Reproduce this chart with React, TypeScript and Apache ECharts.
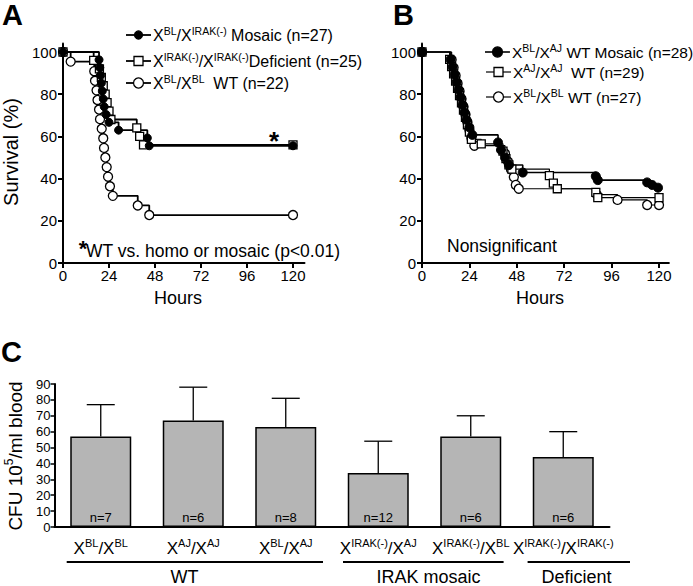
import React, { useEffect, useRef } from 'react';
import * as echarts from 'echarts';

const FONT = '"Liberation Sans", Arial, Helvetica, sans-serif';

// ---------- Panel A (survival, hours vs %) ----------
const hoursTicks = [0, 24, 48, 72, 96, 120];
const survivalTicks = [0, 20, 40, 60, 80, 100];

const aNames = ['X^{BL}/X^{IRAK(-)} Mosaic (n=27)', 'X^{IRAK(-)}/X^{IRAK(-)}Deficient (n=25)', 'X^{BL}/X^{BL}  WT (n=22)'];
const aMosaic: number[][] = [[0, 100], [18.8, 96.3], [19.2, 92.59], [19.6, 88.89], [20, 85.19], [20.5, 81.48], [21, 77.78], [21.5, 74.07], [22.5, 70.37], [24, 66.67], [29, 62.96], [44, 59.26], [45, 55.56], [120, 55.56]];
const aDeficient: number[][] = [[0, 100], [16, 96], [19, 92], [20, 88], [21, 84], [22, 80], [23, 76], [24, 72], [25, 68], [38.5, 64], [40, 60], [42, 56], [120, 56]];
const aWT: number[][] = [[0, 100], [4, 95.45], [16.3, 90.91], [16.7, 86.36], [17.5, 81.82], [18, 77.27], [18.8, 72.73], [19.3, 68.18], [20.2, 63.64], [21, 59.09], [21.4, 54.55], [22.1, 50], [22.8, 45.45], [23.5, 40.91], [24.5, 36.36], [26, 31.82], [39, 27.27], [45, 22.73], [120, 22.73]];

// ---------- Panel B ----------
const bNames = ['X^{BL}/X^{AJ} WT Mosaic (n=28)', 'X^{AJ}/X^{AJ}  WT (n=29)', 'X^{BL}/X^{BL} WT (n=27)'];
const bMosaic: number[][] = [[0, 100], [14.5, 96.43], [15.5, 92.86], [16.5, 89.29], [17.5, 85.71], [18.5, 82.14], [19.5, 78.57], [20.5, 75], [21.5, 71.43], [22.5, 67.86], [24, 64.29], [25.5, 60.71], [38.5, 57.14], [40, 53.57], [42, 50], [44, 46.43], [51, 42.86], [88, 41.1], [89, 39.29], [114, 38.2], [116.5, 37], [119.5, 35.7]];
const bAJ: number[][] = [[0, 100], [14, 96.55], [15, 93.1], [16, 89.66], [17, 86.21], [18, 82.76], [19, 79.31], [20, 75.86], [21, 72.41], [22, 68.97], [23, 65.52], [24, 62.07], [25, 58.62], [30, 56.5], [41, 53], [42.5, 49.5], [44, 46.5], [45.5, 44.5], [64.5, 41.4], [66.5, 37.9], [68.5, 35.2], [88, 33.5], [89, 31], [120, 31]];
const bBL: number[][] = [[0, 100], [15, 96.3], [16, 92.6], [17, 88.9], [18, 85.2], [19, 81.5], [20, 77.8], [21, 74.1], [22, 70.4], [23, 66.7], [24, 63], [25, 59.3], [26.5, 55.6], [42, 51.9], [43.5, 48.1], [45, 44.4], [46.5, 40.7], [47.5, 37], [49, 35.2], [88.5, 32.4], [99, 29.9], [114, 27.5], [120, 27.5]];

// ---------- Panel C (bars) ----------
const cfuCategories = ['X^{BL}/X^{BL}', 'X^{AJ}/X^{AJ}', 'X^{BL}/X^{AJ}', 'X^{IRAK(-)}/X^{AJ}', 'X^{IRAK(-)}/X^{BL}', 'X^{IRAK(-)}/X^{IRAK(-)}'];
const cfuMeans = [57, 67, 63, 34, 57, 44];
const cfuUpper = [77, 88, 81, 54, 70, 60];
const cfuN = ['n=7', 'n=6', 'n=8', 'n=12', 'n=6', 'n=6'];
const groupLabels = ['WT', 'IRAK mosaic', 'Deficient'];

function toRich(s: string, n = 'n', p = 's'): string {
  const out: string[] = [];
  const re = /\^\{([^}]*)\}/g;
  let last = 0;
  let m: RegExpExecArray | null;
  while ((m = re.exec(s))) {
    if (m.index > last) out.push(`{${n}|${s.slice(last, m.index)}}`);
    out.push(`{${p}|${m[1]}}`);
    last = re.lastIndex;
  }
  if (last < s.length) out.push(`{${n}|${s.slice(last)}}`);
  return out.join('');
}

const black = '#000';
function legendRich(size: number, sup: number) {
  return {
    n: { fontSize: size, lineHeight: 20, fill: black, fontFamily: FONT },
    s: { fontSize: sup, lineHeight: sup, verticalAlign: 'top', fill: black, fontFamily: FONT },
  };
}
const catRich = {
  n: { fontSize: 17, lineHeight: 22, color: black, fontFamily: FONT },
  s: { fontSize: 11, lineHeight: 11, verticalAlign: 'top', color: black, fontFamily: FONT },
};

const axisLineStyle = { show: true, onZero: false, lineStyle: { color: black, width: 2 } };

function kmX(gridIndex: number, max: number) {
  return {
    gridIndex, type: 'value', min: 0, max,
    axisLine: axisLineStyle,
    axisTick: { show: true, length: 5, lineStyle: { color: black, width: 2 }, customValues: hoursTicks },
    axisLabel: { customValues: hoursTicks, fontSize: 15, color: black, margin: 5 },
    splitLine: { show: false },
  };
}
function kmY(gridIndex: number) {
  return {
    gridIndex, type: 'value', min: 0, max: 104,
    axisLine: axisLineStyle,
    axisTick: { show: true, length: 5, lineStyle: { color: black, width: 2 }, customValues: survivalTicks },
    axisLabel: { customValues: survivalTicks, fontSize: 15, color: black, margin: 6 },
    splitLine: { show: false },
  };
}

function km(name: string, idx: number, data: number[][], symbol: string, filled: boolean, lineWidth: number, size: number) {
  return {
    name, type: 'line', xAxisIndex: idx, yAxisIndex: idx, data, step: 'end',
    symbol, symbolSize: size, showSymbol: true, showAllSymbol: true, clip: false,
    lineStyle: { color: black, width: lineWidth },
    itemStyle: filled ? { color: black, borderColor: black, borderWidth: 1 } : { color: '#fff', borderColor: black, borderWidth: 1.3 },
    emphasis: { disabled: true },
  };
}

// hand-drawn legend entry: line + symbol + rich label
function legendEntry(x0: number, y: number, label: string, symbol: 'circle' | 'rect', filled: boolean, lineW: number, size: number, rich: any): any[] {
  const cx = x0 + 12.5;
  const symStyle = { fill: filled ? black : '#fff', stroke: black, lineWidth: 1.3 };
  const sym = symbol === 'circle'
    ? { type: 'circle', z: 101, shape: { cx, cy: y, r: size / 2 }, style: symStyle }
    : { type: 'rect', z: 101, shape: { x: cx - size / 2, y: y - size / 2, width: size, height: size }, style: symStyle };
  return [
    { type: 'line', z: 100, shape: { x1: x0, y1: y, x2: x0 + 25, y2: y }, style: { stroke: black, lineWidth: lineW } },
    sym,
    { type: 'text', z: 100, x: x0 + 27, y, style: { text: toRich(label), rich, verticalAlign: 'middle' } },
  ];
}

export default function App() {
  const ref = useRef<HTMLDivElement>(null);
  useEffect(() => {
    const chart = echarts.init(ref.current!, null, { renderer: 'svg' });
    const richA = legendRich(16, 10.5);
    const richB = legendRich(15.5, 10.5);
    const option: any = {
      animation: false,
      backgroundColor: '#fff',
      textStyle: { fontFamily: FONT, color: black },
      grid: [
        { left: 63, top: 43.56, width: 241.5, height: 219.44 },
        { left: 422, top: 43.56, width: 246.9, height: 219.44 },
        { left: 54.5, top: 384, width: 555, height: 143 },
      ],
      xAxis: [
        kmX(0, 126),
        kmX(1, 125),
        {
          gridIndex: 2, type: 'category', data: cfuCategories,
          axisLine: axisLineStyle, axisTick: { show: false },
          axisLabel: { interval: 0, margin: 10, formatter: (v: string) => toRich(v), rich: catRich },
        },
      ],
      yAxis: [
        kmY(0),
        kmY(1),
        {
          gridIndex: 2, type: 'value', min: 0, max: 90, interval: 10,
          axisLine: axisLineStyle,
          axisTick: { show: true, length: 4, lineStyle: { color: black, width: 1.5 } },
          axisLabel: { fontSize: 13, color: black, margin: 4 },
          splitLine: { show: false },
        },
      ],
      series: [
        km(aNames[2], 0, aWT, 'circle', false, 1.8, 9),
        km(aNames[1], 0, aDeficient, 'rect', false, 1.8, 8),
        km(aNames[0], 0, aMosaic, 'circle', true, 1.8, 8),
        km(bNames[2], 1, bBL, 'circle', false, 1.2, 9),
        km(bNames[1], 1, bAJ, 'rect', false, 1.2, 8),
        km(bNames[0], 1, bMosaic, 'circle', true, 1.6, 9),
        {
          type: 'bar', xAxisIndex: 2, yAxisIndex: 2, data: cfuMeans, barWidth: 61,
          itemStyle: { color: '#b5b5b5', borderColor: black, borderWidth: 1.5 },
          label: { show: true, position: 'insideBottom', distance: 3, fontSize: 13, color: black, formatter: (p: any) => cfuN[p.dataIndex] },
          emphasis: { disabled: true },
        },
        {
          type: 'custom', xAxisIndex: 2, yAxisIndex: 2,
          data: cfuMeans.map((m, i) => [i, m, cfuUpper[i]]),
          encode: { x: 0, y: [1, 2] },
          renderItem: (params: any, api: any) => {
            const i = api.value(0);
            const lo = api.coord([i, api.value(1)]);
            const hi = api.coord([i, api.value(2)]);
            const st = { stroke: black, lineWidth: 1.3 };
            return {
              type: 'group',
              children: [
                { type: 'line', shape: { x1: lo[0], y1: lo[1], x2: hi[0], y2: hi[1] }, style: st },
                { type: 'line', shape: { x1: hi[0] - 14, y1: hi[1], x2: hi[0] + 14, y2: hi[1] }, style: st },
              ],
            };
          },
          z: 5,
        },
      ],
      graphic: [
        ...legendEntry(126, 35, aNames[0], 'circle', true, 1.8, 8, richA),
        ...legendEntry(126, 61, aNames[1], 'rect', false, 1.8, 9, richA),
        ...legendEntry(126, 83, aNames[2], 'circle', false, 1.8, 10, richA),
        ...legendEntry(485, 52, bNames[0], 'circle', true, 1.6, 10, richB),
        ...legendEntry(486, 72, bNames[1], 'rect', false, 1.2, 9, richB),
        ...legendEntry(486, 97, bNames[2], 'circle', false, 1.2, 10, richB),
        { type: 'text', x: 2, y: 15, style: { text: 'A', font: `bold 29px ${FONT}`, fill: black, verticalAlign: 'middle' } },
        { type: 'text', x: 393, y: 15, style: { text: 'B', font: `bold 29px ${FONT}`, fill: black, verticalAlign: 'middle' } },
        { type: 'text', x: 1, y: 352, style: { text: 'C', font: `bold 29px ${FONT}`, fill: black, verticalAlign: 'middle' } },
        { type: 'text', x: 11, y: 152, rotation: Math.PI / 2, style: { text: 'Survival (%)', font: `20px ${FONT}`, fill: black, align: 'center', verticalAlign: 'middle' } },
        { type: 'text', x: 178, y: 298, style: { text: 'Hours', font: `18px ${FONT}`, fill: black, align: 'center', verticalAlign: 'middle' } },
        { type: 'text', x: 540, y: 298, style: { text: 'Hours', font: `18px ${FONT}`, fill: black, align: 'center', verticalAlign: 'middle' } },
        { type: 'text', x: 274, y: 141, style: { text: '*', font: `bold 26px ${FONT}`, fill: black, align: 'center', verticalAlign: 'middle' } },
        { type: 'text', x: 83, y: 248, style: { text: '*', font: `bold 22px ${FONT}`, fill: black, align: 'center', verticalAlign: 'middle' } },
        { type: 'text', x: 86, y: 251, style: { text: 'WT vs. homo or mosaic (p<0.01)', font: `17.5px ${FONT}`, fill: black, verticalAlign: 'middle' } },
        { type: 'text', x: 447, y: 246, style: { text: 'Nonsignificant', font: `17.5px ${FONT}`, fill: black, verticalAlign: 'middle' } },
        {
          type: 'text', x: 15, y: 456, rotation: Math.PI / 2,
          style: {
            text: '{n|CFU 10}{s|5}{n|/ml blood}', align: 'center', verticalAlign: 'middle',
            rich: {
              n: { fontSize: 19, lineHeight: 24, fill: black, fontFamily: FONT },
              s: { fontSize: 12, lineHeight: 12, verticalAlign: 'top', fill: black, fontFamily: FONT },
            },
          },
        },
        { type: 'line', shape: { x1: 66.7, y1: 562, x2: 323, y2: 562 }, style: { stroke: black, lineWidth: 2.2 } },
        { type: 'line', shape: { x1: 343, y1: 562, x2: 503.6, y2: 562 }, style: { stroke: black, lineWidth: 2.2 } },
        { type: 'line', shape: { x1: 527.6, y1: 562, x2: 630, y2: 562 }, style: { stroke: black, lineWidth: 2.2 } },
        { type: 'text', x: 184.4, y: 577, style: { text: groupLabels[0], font: `18px ${FONT}`, fill: black, align: 'center', verticalAlign: 'middle' } },
        { type: 'text', x: 428.5, y: 577, style: { text: groupLabels[1], font: `18px ${FONT}`, fill: black, align: 'center', verticalAlign: 'middle' } },
        { type: 'text', x: 576.5, y: 577, style: { text: groupLabels[2], font: `18px ${FONT}`, fill: black, align: 'center', verticalAlign: 'middle' } },
      ],
    };
    chart.setOption(option);
    return () => chart.dispose();
  }, []);
  return <div ref={ref} style={{ position: 'absolute', left: 0, top: 0, width: 693, height: 586 }} />;
}
